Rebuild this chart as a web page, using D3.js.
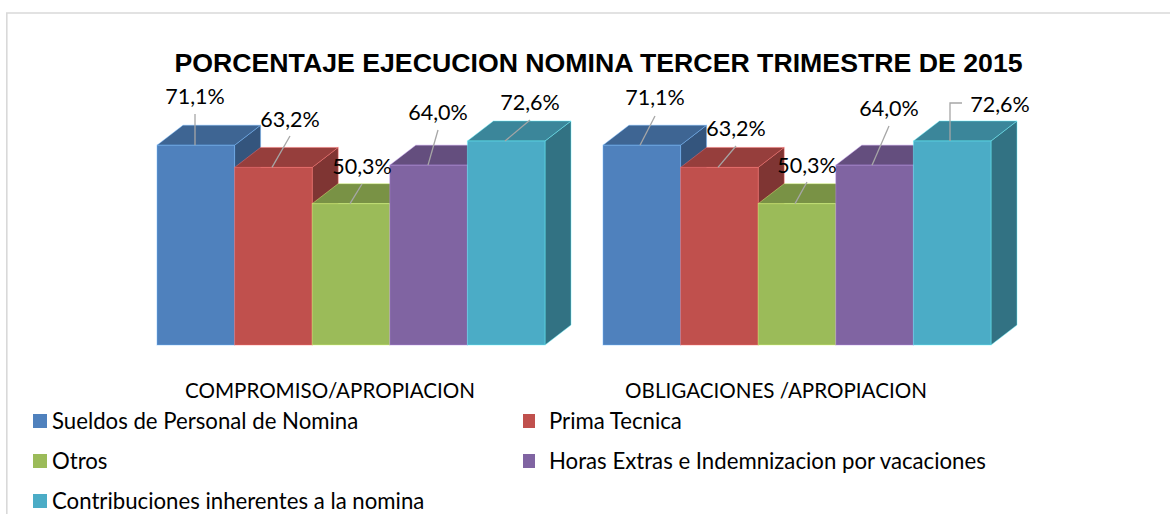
<!DOCTYPE html>
<html>
<head>
<meta charset="utf-8">
<script src="https://cdn.jsdelivr.net/npm/d3@7"></script>
<style>
html,body {margin:0;padding:0;background:#fff;}
svg {display:block;}
text {fill:#000;font-family:Lato,sans-serif;}
</style>
</head>
<body>
<script>
// data
var titletxt='PORCENTAJE EJECUCION NOMINA TERCER TRIMESTRE DE 2015';
var groups=['COMPROMISO/APROPIACION','OBLIGACIONES /APROPIACION'];
var series=['Sueldos de Personal de Nomina','Prima Tecnica','Otros','Horas Extras e Indemnizacion por vacaciones','Contribuciones inherentes a la nomina'];
var valcomp=[71.1,63.2,50.3,64.0,72.6];
var valoblg=[71.1,63.2,50.3,64.0,72.6];
var colors=['#4f81bd','#c0504d','#9bbb59','#8064a2','#4bacc6'];
// constant declaration
var wid=1170; // width
var hgh=514; // height
var depx=26; // 3d depth, x
var depy=20; // 3d depth, y
// hand placed data labels: label center, leader start, leader end x on bar top
var lblpos=[
 [[195,96,195,114,195],[290,119,290,136,272],[362,166,362,184,350],[438,112,438,130,428],[530,102,530,120,505]],
 [[655,97,655,116,640],[736,128,736,146,718],[807,165,807,182,795],[889,108,889,126,872],[1000,104,962,103,950]]
];
var x0=d3.scaleBand().domain(groups).range([157,991]).paddingInner(0.13);
var x1=d3.scaleBand().domain(series).range([0,x0.bandwidth()]);
var y=d3.scaleLinear().domain([0,100]).range([345,64]);
var fmt=function (v) {return v.toFixed(1).replace('.',',')+'%';};
function shade(c,k) { // darker face of a bar
 var r=d3.rgb(c);
 return d3.rgb(r.r*k,r.g*k,r.b*k).formatHex();
}
function edge(sel,c) { // thin light rim round a face
 return sel.attr('stroke',d3.rgb(c).brighter(1).formatHex()).attr('stroke-opacity',0.45).attr('stroke-width',1);
}
var svg=d3.select('body').append('svg').attr('width',wid).attr('height',hgh);
// frame, only top and left show in the picture
svg.append('path').attr('d',d3.line()([[wid,13],[6.8,13],[6.8,hgh]])).attr('fill','none')
   .attr('stroke','#d9d9d9').attr('stroke-width',1.6);
svg.append('text').attr('x',598.5).attr('y',72).attr('text-anchor','middle')
   .style('font-family','"Liberation Sans"').style('font-weight','bold').style('font-size','26.7px')
   .text(titletxt);
function drawgroup(g,vals,gi) {
 var base=y(0);
 vals.forEach(function (v,i) {
  var xl=x0(g)+x1(series[i]),xr=xl+x1.bandwidth(),yt=y(v);
  var pts=function (a) {return a.map(function (p) {return p.join(',');}).join(' ');};
  edge(svg.append('polygon').attr('fill',shade(colors[i],0.66))
     .attr('points',pts([[xr,yt],[xr+depx,yt-depy],[xr+depx,base-depy],[xr,base]])),colors[i]);
  edge(svg.append('polygon').attr('fill',shade(colors[i],0.78))
     .attr('points',pts([[xl,yt],[xl+depx,yt-depy],[xr+depx,yt-depy],[xr,yt]])),colors[i]);
  edge(svg.append('rect').attr('x',xl).attr('y',yt).attr('width',x1.bandwidth()).attr('height',base-yt)
     .attr('fill',colors[i]),colors[i]);
 });
 // labels go after all bars
 vals.forEach(function (v,i) {
  var p=lblpos[gi][i];
  var ln=[[p[2],p[3]],[p[4],y(v)]];
  if (gi==1&&i==4) ln=[[p[2],p[3]],[p[4],p[3]],[p[4],y(v)]]; // elbow leader
  svg.append('path').attr('d',d3.line()(ln)).attr('fill','none')
     .attr('stroke','#a6a6a6').attr('stroke-width',1.3);
  svg.append('text').attr('x',p[0]).attr('y',p[1]).attr('dy','0.35em').attr('text-anchor','middle')
     .style('font-size','21.5px').text(fmt(v));
 });
 svg.append('text').attr('x',x0(g)+x0.bandwidth()/2-21).attr('y',391).attr('dy','0.35em')
    .attr('text-anchor','middle').style('font-size','20.6px').text(g);
}
drawgroup(groups[0],valcomp,0);
drawgroup(groups[1],valoblg,1);
// legend
series.forEach(function (s,i) {
 var lx=i%2==0?33:523,ly=421+Math.floor(i/2)*40;
 svg.append('rect').attr('x',lx).attr('y',ly-7).attr('width',i%2==0?14:12).attr('height',14).attr('fill',colors[i]);
 svg.append('text').attr('x',lx+(i%2==0?19:26)).attr('y',ly).attr('dy','0.35em').style('font-size','22.2px').text(s);
});
</script>
</body>
</html>
